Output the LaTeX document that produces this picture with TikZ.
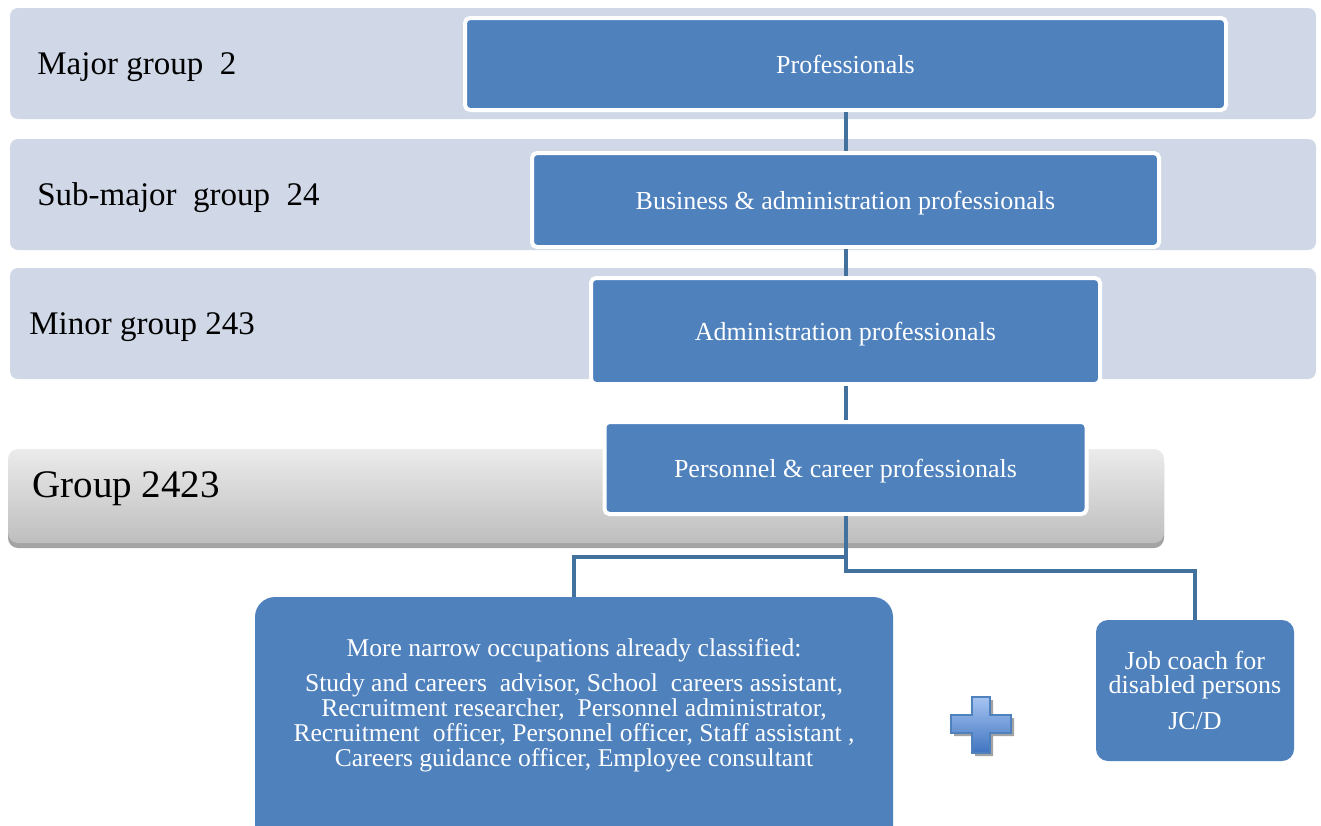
\documentclass[tikz,border=0pt]{standalone}
\usepackage{fontspec}
\setmainfont{Liberation Serif}
\definecolor{bandfill}{HTML}{D0D8E8}
\definecolor{boxblue}{HTML}{4F81BD}
\definecolor{connblue}{HTML}{41719C}
\definecolor{plusdark}{HTML}{3F74C0}
\definecolor{pluslight}{HTML}{A6C4F2}
\definecolor{greytop}{HTML}{EBEBEB}
\definecolor{greybot}{HTML}{BEBEBE}
\definecolor{greyshadow}{HTML}{A3A3A3}
\begin{document}
\begin{tikzpicture}[x=0.5pt,y=-0.5pt,
  bandshape/.style={fill=bandfill, rounded corners=4pt},
  bluebox/.style={rectangle, fill=boxblue, draw=white, line width=2pt, rounded corners=2.5pt,
    text=white, font=\fontsize{13}{15}\selectfont, inner sep=0pt, text height=0.95em, text depth=0pt},
  lbl/.style={anchor=base west, inner sep=0pt, font=\fontsize{16.5}{18}\selectfont},
  softbox/.style={rectangle, fill=boxblue, draw=none, text=white, inner sep=0pt},
  boxtext/.style={text=white, align=center, inner sep=0pt, font=\fontsize{12.8}{12.5}\selectfont},
  connector/.style={draw=connblue, line width=2pt}]
\useasboundingbox (0,0) rectangle (1321,825);
\clip (0,0) rectangle (1321,825);

% background bands
\path[bandshape] (10,8) rectangle (1316,119);
\path[bandshape] (10,139) rectangle (1316,250);
\path[bandshape] (10,268) rectangle (1316,379);
\path[fill=greyshadow, rounded corners=5pt] (8,453) rectangle (1164,548);
\shade[top color=greytop, bottom color=greybot, rounded corners=5pt] (8,449) rectangle (1164,543);

% level labels
\node[lbl] (l1) at (37,74) {Major group~ 2};
\node[lbl] (l2) at (37,205) {Sub-major~ group~ 24};
\node[lbl] (l3) at (29,334) {Minor group 243};
\node[lbl, font=\fontsize{19.5}{22}\selectfont] (l4) at (32,497) {Group 2423};

% blue hierarchy boxes
\node[bluebox, minimum width=380.5pt, minimum height=46pt] (prof) at (845.5,64) {Professionals};
\node[bluebox, minimum width=313.5pt, minimum height=47pt] (bus) at (845.5,200) {Business \& administration professionals};
\node[bluebox, minimum width=254.5pt, minimum height=53pt] (adm) at (845.5,331) {Administration professionals};
\node[bluebox, minimum width=241pt, minimum height=46pt] (pers) at (845.5,468) {Personnel \& career professionals};

% bottom boxes
\node[softbox, rounded corners=10pt, minimum width=319pt, minimum height=126.5pt] (big) at (574,723.5) {};
\node[boxtext] (bigtxt) at (574,705) {More narrow occupations already classified:\\[5pt]
Study and careers~ advisor, School~ careers assistant,\\
Recruitment researcher,~ Personnel administrator,\\
Recruitment~ officer, Personnel officer, Staff assistant ,\\
Careers guidance officer, Employee consultant};
\node[softbox, rounded corners=6pt, minimum width=99pt, minimum height=70.5pt, align=center,
  font=\fontsize{13}{12}\selectfont] (job) at (1195,690.5) {Job coach for\\disabled persons\\[6pt]JC/D};

% connectors
\draw[connector] (prof.south) -- (bus.north);
\draw[connector] (bus.south) -- (adm.north);
\draw[connector] (adm.south) -- (pers.north);
\draw[connector] (pers.south) -- ++(0,41) -| (big.north);
\draw[connector] (pers.south) -- ++(0,55) -| (job.north);

% plus sign
\fill[greyshadow] (975,700) -- (993,700) -- (993,718) -- (1014,718) -- (1014,736) -- (993,736) -- (993,756) -- (975,756) -- (975,736) -- (954,736) -- (954,718) -- (975,718) -- cycle;
\shade[top color=pluslight, bottom color=plusdark, draw=boxblue, line width=0.6pt]
  (972,697) -- (990,697) -- (990,715) -- (1011,715) -- (1011,733) -- (990,733) -- (990,753) -- (972,753) -- (972,733) -- (951,733) -- (951,715) -- (972,715) -- cycle;
\end{tikzpicture}
\end{document}
